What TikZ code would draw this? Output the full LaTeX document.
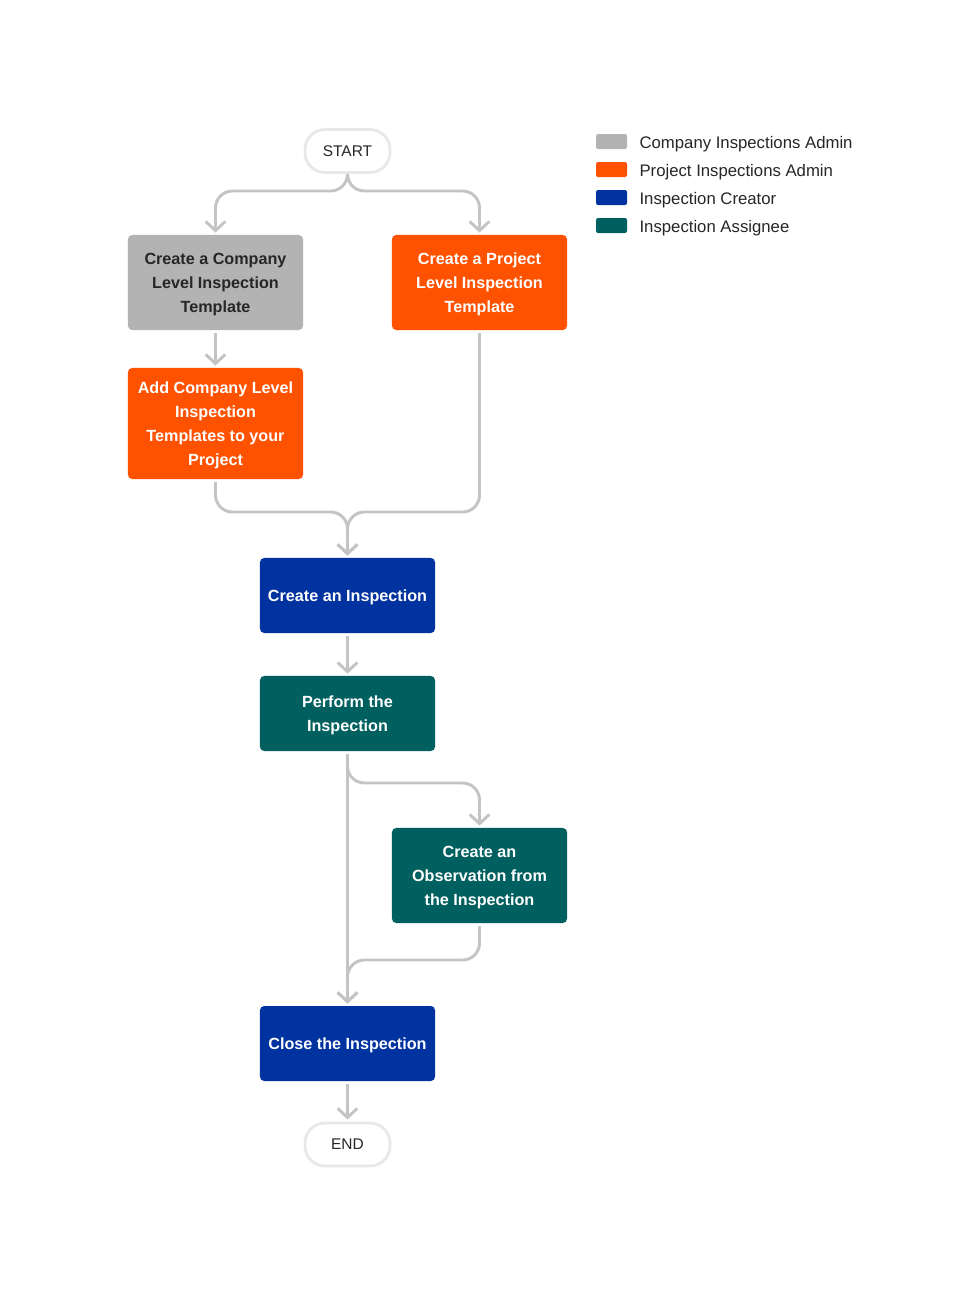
\documentclass[tikz,border=0pt]{standalone}
\usepackage{fontspec}
\setmainfont{Liberation Sans}
\usetikzlibrary{arrows.meta,positioning}

\definecolor{compgray}{HTML}{B3B3B3}
\definecolor{projorange}{HTML}{FF5200}
\definecolor{creatorblue}{HTML}{0032A0}
\definecolor{assigneeteal}{HTML}{005F5F}
\definecolor{flowgray}{HTML}{C4C4C4}
\definecolor{pillgray}{HTML}{E8E8E8}
\definecolor{textdark}{HTML}{262626}

\tikzset{
  box/.style={rounded corners=3pt, minimum width=4.375cm, minimum height=2.375cm,
    align=center, inner sep=2pt, text=white, text depth=-1.5pt,
    font=\fontsize{11.5}{17}\selectfont\bfseries},
  pill/.style={draw=pillgray, line width=2pt, rounded corners=0.5cm, fill=white,
    minimum width=2.125cm, minimum height=1.075cm, text=textdark,
    font=\fontsize{11}{13}\selectfont},
  flow/.style={draw=flowgray, line width=2.1pt, rounded corners=12pt,
    -{Straight Barb[length=6.5pt,width=14pt]}, shorten >=1.5pt, shorten <=2pt},
  legsq/.style={rounded corners=1.5pt, minimum width=0.775cm, minimum height=0.375cm,
    inner sep=0pt},
  legtext/.style={inner sep=0pt, text=textdark, yshift=-2pt,
    font=\fontsize{11.9}{14}\selectfont},
}

\begin{document}
\begin{tikzpicture}[x=0.025cm, y=-0.025cm]
  \useasboundingbox (0,0) rectangle (980,1296);

  % start and end
  \node[pill] (start) at (347.5,151) {START};
  \node[pill] (end) at (347.5,1144.5) {END};

  % steps
  \node[box, fill=compgray, text=textdark] (comp) at (215.5,282.5)
    {Create a Company\\Level Inspection\\Template};
  \node[box, fill=projorange] (proj) at (479.5,282.5)
    {Create a Project\\Level Inspection\\Template};
  \node[box, fill=projorange, minimum height=2.775cm] (add) at (215.5,423.5)
    {Add Company Level\\Inspection\\Templates to your\\Project};
  \node[box, fill=creatorblue, minimum height=1.875cm] (create) at (347.5,595.5)
    {Create an Inspection};
  \node[box, fill=assigneeteal, minimum height=1.875cm] (perform) at (347.5,713.5)
    {Perform the\\Inspection};
  \node[box, fill=assigneeteal] (obs) at (479.5,875.5)
    {Create an\\Observation from\\the Inspection};
  \node[box, fill=creatorblue, minimum height=1.875cm] (close) at (347.5,1043.5)
    {Close the Inspection};

  % joins
  \coordinate (split1) at (347.5,191);
  \coordinate (join1) at (347.5,512);
  \coordinate (split2) at (347.5,783);
  \coordinate (join2) at (347.5,960);

  % connectors
  \draw[flow] (start.south) -- (split1) -| (comp.north);
  \draw[flow] (start.south) -- (split1) -| (proj.north);
  \draw[flow] (comp.south) -- (add.north);
  \draw[flow] (add.south) |- (join1) -- (create.north);
  \draw[flow] (proj.south) |- (join1) -- (create.north);
  \draw[flow] (create.south) -- (perform.north);
  \draw[flow] (perform.south) -- (close.north);
  \draw[flow] (perform.south) -- (split2) -| (obs.north);
  \draw[flow] (obs.south) |- (join2) -- (close.north);
  \draw[flow] (close.south) -- (end.north);

  % legend
  \node[legsq, fill=compgray] (legcomp) at (611.5,141.5) {};
  \node[legsq, fill=projorange] (legproj) at (611.5,169.5) {};
  \node[legsq, fill=creatorblue] (legcreator) at (611.5,197.5) {};
  \node[legsq, fill=assigneeteal] (legassignee) at (611.5,225.5) {};
  \node[legtext, right=0.3cm of legcomp] (legcomptext) {Company Inspections Admin};
  \node[legtext, right=0.3cm of legproj] (legprojtext) {Project Inspections Admin};
  \node[legtext, right=0.3cm of legcreator] (legcreatortext) {Inspection Creator};
  \node[legtext, right=0.3cm of legassignee] (legassigneetext) {Inspection Assignee};
\end{tikzpicture}
\end{document}
